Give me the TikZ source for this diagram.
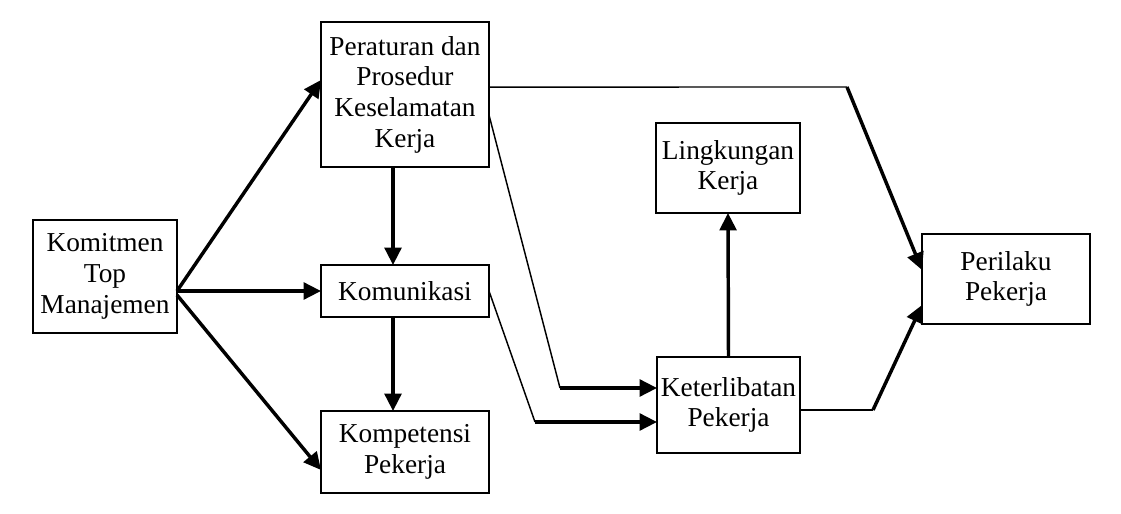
\documentclass[tikz,border=0pt]{standalone}
\usepackage{fontspec}
\setmainfont{Liberation Serif}
\usetikzlibrary{arrows.meta}
\begin{document}
\begin{tikzpicture}[x=0.75pt,y=-0.75pt,
  box/.style={draw,line width=1.3pt,inner sep=0pt,outer sep=0pt,align=center,
    font=\fontsize{20.5}{23}\selectfont},
  thickarr/.style={line width=2.6pt,-{Triangle[length=13pt,width=12.5pt]}},
  thinline/.style={line width=1.1pt}]
\useasboundingbox (0,0) rectangle (1121,514);
\node[box,minimum width=108pt,minimum height=84.75pt] (kt) at (105,276.5) {Komitmen\\Top\\Manajemen};
\node[box,minimum width=126pt,minimum height=108.75pt] (per) at (405,94.5) {Peraturan dan\\Prosedur\\Keselamatan\\Kerja};
\node[box,minimum width=126pt,minimum height=39pt] (kom) at (405,291) {Komunikasi};
\node[box,minimum width=126pt,minimum height=61.5pt] (kmp) at (405,452) {Kompetensi\\Pekerja};
\node[box,minimum width=108pt,minimum height=67.5pt] (lk) at (728,168) {Lingkungan\\Kerja};
\node[box,minimum width=107.25pt,minimum height=72pt] (ket) at (728.5,405) {Keterlibatan\\Pekerja};
\node[box,minimum width=126pt,minimum height=67.5pt] (pl) at (1006,279) {Perilaku\\Pekerja};
\coordinate (c1) at (847,87);
\coordinate (c2) at (560,388);
\coordinate (c3) at (535,422);
\coordinate (c4) at (873,410);
% from Komitmen
\draw[thickarr] (kt.east |- kom.west) -- ([yshift=10.9pt]per.west);
\draw[thickarr] (kt.east |- kom.west) -- (kom.west);
\draw[thickarr] ([yshift=-3pt]kt.east |- kom.west) -- ([yshift=-13.5pt]kmp.west);
% vertical
\draw[thickarr] ([xshift=-9pt]per.south) -- ([xshift=-9pt]kom.north);
\draw[thickarr] ([xshift=-9pt]kom.south) -- ([xshift=-9pt]kmp.north);
\draw[thickarr] (ket.north) -- (lk.south);
% Peraturan -> Perilaku
\draw[thinline] ([yshift=5.6pt]per.east) -- (c1);
\draw[thickarr] (c1) -- ([yshift=6.75pt]pl.west);
% Peraturan -> Keterlibatan
\draw[thinline] ([yshift=-15.4pt]per.east) -- (c2);
\draw[thickarr] (c2) -- ([yshift=12.75pt]ket.west);
% Komunikasi -> Keterlibatan
\draw[thinline] (kom.east) -- (c3);
\draw[thickarr] (c3) -- ([yshift=-12.75pt]ket.west);
% Keterlibatan -> Perilaku
\draw[thinline] ([yshift=-3.75pt]ket.east) -- (c4);
\draw[thickarr] (c4) -- ([yshift=-19.5pt]pl.west);
\end{tikzpicture}
\end{document}
